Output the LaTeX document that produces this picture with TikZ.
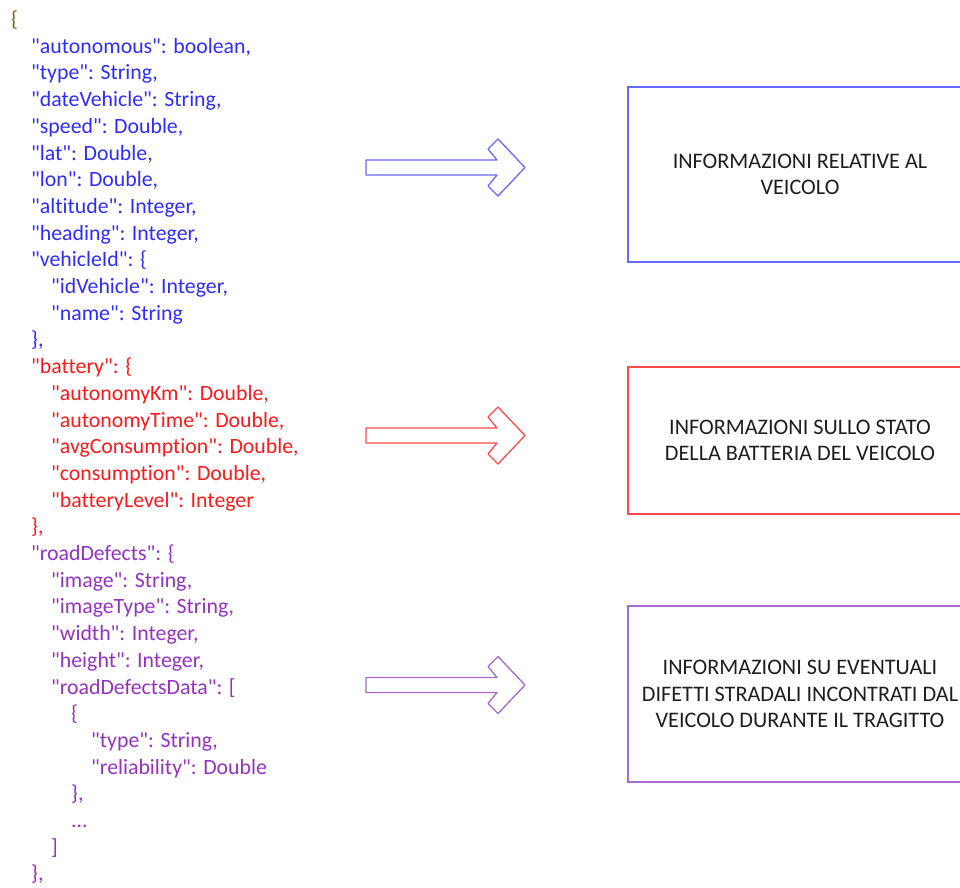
\documentclass[tikz,border=0pt]{standalone}
\usepackage{fontspec}
\setmainfont{Carlito}[Ligatures={TeXOff,NoCommon}]
\newfontfamily\codefont{Carlito}[Ligatures={TeXOff,NoCommon}]
\begin{document}
\definecolor{keyblue}{RGB}{45,45,255}
\definecolor{keyred}{RGB}{255,25,25}
\definecolor{keypurple}{RGB}{150,50,195}
\definecolor{bracebrown}{RGB}{125,95,20}
\definecolor{lineblue}{RGB}{105,105,255}
\definecolor{linered}{RGB}{255,75,75}
\definecolor{linepurple}{RGB}{165,105,210}
\definecolor{labelgray}{RGB}{30,30,30}
\begin{tikzpicture}[x=1pt,y=-1pt,
  code/.style={anchor=base west,inner sep=0pt,font=\codefont\fontsize{21.8}{26}\selectfont},
  infobox/.style={draw,line width=1.4pt,rectangle,inner sep=0pt,align=center,
    text=labelgray,font=\codefont\fontsize{22.2}{26.6}\selectfont},
  pics/blockarrow/.style={code={
    \draw[line width=1.3pt,line join=round,#1]
      (0,-7.5) -- (131,-7.5) -- (122,-18.5) -- (132,-28.5) -- (159,0)
      -- (132,28.5) -- (122,18.5) -- (131,7.5) -- (0,7.5) -- cycle;}}]
\useasboundingbox (0,0) rectangle (960,887);
\clip (0,0) rectangle (960,887);

% JSON listing, one baseline every 26.7 units
\def\lh{26.7}
\def\yo{26.5}
\node[code,text=bracebrown] (l0) at (11,\yo) {\{};
\begin{scope}[every node/.append style={text=keyblue}]
\node[code] (l1)  at (31,{\yo+1*\lh}) {"autonomous": boolean,};
\node[code] (l2)  at (31,{\yo+2*\lh}) {"type": String,};
\node[code] (l3)  at (31,{\yo+3*\lh}) {"dateVehicle": String,};
\node[code] (l4)  at (31,{\yo+4*\lh}) {"speed": Double,};
\node[code] (l5)  at (31,{\yo+5*\lh}) {"lat": Double,};
\node[code] (l6)  at (31,{\yo+6*\lh}) {"lon": Double,};
\node[code] (l7)  at (31,{\yo+7*\lh}) {"altitude": Integer,};
\node[code] (l8)  at (31,{\yo+8*\lh}) {"heading": Integer,};
\node[code] (l9)  at (31,{\yo+9*\lh}) {"vehicleId": \{};
\node[code] (l10) at (51,{\yo+10*\lh}) {"idVehicle": Integer,};
\node[code] (l11) at (51,{\yo+11*\lh}) {"name": String};
\node[code] (l12) at (31,{\yo+12*\lh}) {\},};
\end{scope}
\begin{scope}[every node/.append style={text=keyred}]
\node[code] (l13) at (31,{\yo+13*\lh}) {"battery": \{};
\node[code] (l14) at (51,{\yo+14*\lh}) {"autonomyKm": Double,};
\node[code] (l15) at (51,{\yo+15*\lh}) {"autonomyTime": Double,};
\node[code] (l16) at (51,{\yo+16*\lh}) {"avgConsumption": Double,};
\node[code] (l17) at (51,{\yo+17*\lh}) {"consumption": Double,};
\node[code] (l18) at (51,{\yo+18*\lh}) {"batteryLevel": Integer};
\node[code] (l19) at (31,{\yo+19*\lh}) {\},};
\end{scope}
\begin{scope}[every node/.append style={text=keypurple}]
\node[code] (l20) at (31,{\yo+20*\lh}) {"roadDefects": \{};
\node[code] (l21) at (51,{\yo+21*\lh}) {"image": String,};
\node[code] (l22) at (51,{\yo+22*\lh}) {"imageType": String,};
\node[code] (l23) at (51,{\yo+23*\lh}) {"width": Integer,};
\node[code] (l24) at (51,{\yo+24*\lh}) {"height": Integer,};
\node[code] (l25) at (51,{\yo+25*\lh}) {"roadDefectsData": [};
\node[code] (l26) at (71,{\yo+26*\lh}) {\{};
\node[code] (l27) at (91,{\yo+27*\lh}) {"type": String,};
\node[code] (l28) at (91,{\yo+28*\lh}) {"reliability": Double};
\node[code] (l29) at (71,{\yo+29*\lh}) {\},};
\node[code] (l30) at (71,{\yo+30*\lh}) {...};
\node[code] (l31) at (51,{\yo+31*\lh}) {]};
\node[code] (l32) at (31,{\yo+32*\lh}) {\},};
\end{scope}

% block arrows
\pic at (366,167.5) {blockarrow=lineblue};
\pic at (366,435.5) {blockarrow=linered};
\pic at (366,685) {blockarrow=linepurple};

% description boxes
\node[infobox,draw=lineblue,minimum width=344pt,minimum height=175pt] (veicolo)
  at (800,174.5) {INFORMAZIONI RELATIVE AL\\VEICOLO};
\node[infobox,draw=linered,minimum width=344pt,minimum height=147pt] (batteria)
  at (800,440.5) {INFORMAZIONI SULLO STATO\\DELLA BATTERIA DEL VEICOLO};
\node[infobox,draw=linepurple,minimum width=344pt,minimum height=176pt] (difetti)
  at (800,694) {INFORMAZIONI SU EVENTUALI\\DIFETTI STRADALI INCONTRATI DAL\\VEICOLO DURANTE IL TRAGITTO};
\end{tikzpicture}
\end{document}
